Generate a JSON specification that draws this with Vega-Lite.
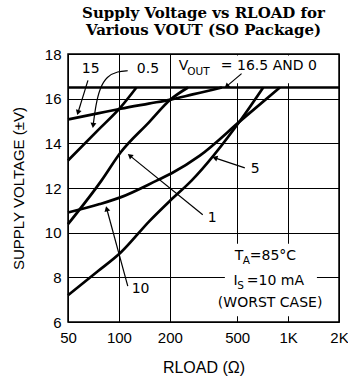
{
  "$schema": "https://vega.github.io/schema/vega-lite/v6.json",
  "width": 271,
  "height": 268,
  "autosize": {"type": "none"},
  "padding": {"left": 68, "top": 54, "right": 9, "bottom": 56},
  "background": "white",
  "title": {
    "text": ["Supply Voltage vs RLOAD for", "Various VOUT (SO Package)"],
    "font": "DejaVu Serif",
    "fontSize": 15,
    "fontWeight": "bold",
    "lineHeight": 17,
    "anchor": "middle",
    "offset": 9,
    "color": "black"
  },
  "config": {
    "view": {"stroke": "black", "strokeWidth": 1.5},
    "axis": {
      "grid": true,
      "gridColor": "black",
      "gridOpacity": 1,
      "gridWidth": 1,
      "ticks": false,
      "domain": false,
      "labelFont": "Liberation Sans",
      "labelFontSize": 15,
      "labelColor": "black",
      "titleFont": "Liberation Sans",
      "titleFontSize": 15,
      "titleFontWeight": "normal",
      "titleColor": "black",
      "labelFlush": false,
      "labelOverlap": false
    }
  },
  "datasets": {
    "curves": [
      {"v": "15", "x": 50, "y": 15.07},
      {"v": "15", "x": 75, "y": 15.34},
      {"v": "15", "x": 102.5, "y": 15.55},
      {"v": "15", "x": 150, "y": 15.78},
      {"v": "15", "x": 202.6, "y": 15.96},
      {"v": "15", "x": 273, "y": 16.19},
      {"v": "15", "x": 359, "y": 16.4},
      {"v": "15", "x": 406, "y": 16.5},
      {"v": "0.5", "x": 50, "y": 13.23},
      {"v": "0.5", "x": 75, "y": 14.58},
      {"v": "0.5", "x": 102.5, "y": 15.62},
      {"v": "0.5", "x": 127, "y": 16.5},
      {"v": "1", "x": 50, "y": 10.38},
      {"v": "1", "x": 78.8, "y": 12.33},
      {"v": "1", "x": 102.5, "y": 13.6},
      {"v": "1", "x": 150, "y": 14.93},
      {"v": "1", "x": 202.6, "y": 15.97},
      {"v": "1", "x": 256, "y": 16.5},
      {"v": "10", "x": 50, "y": 10.9},
      {"v": "10", "x": 77, "y": 11.28},
      {"v": "10", "x": 102, "y": 11.58},
      {"v": "10", "x": 167, "y": 12.33},
      {"v": "10", "x": 205, "y": 12.66},
      {"v": "10", "x": 300.7, "y": 13.45},
      {"v": "10", "x": 531, "y": 15.05},
      {"v": "10", "x": 895, "y": 16.5},
      {"v": "5", "x": 50, "y": 7.2},
      {"v": "5", "x": 75, "y": 8.27},
      {"v": "5", "x": 102.5, "y": 9.11},
      {"v": "5", "x": 152, "y": 10.53},
      {"v": "5", "x": 200, "y": 11.42},
      {"v": "5", "x": 268.7, "y": 12.33},
      {"v": "5", "x": 531, "y": 15.1},
      {"v": "5", "x": 713, "y": 16.5},
      {"v": "16.5 and 0", "x": 50, "y": 16.5},
      {"v": "16.5 and 0", "x": 2000, "y": 16.5}
    ],
    "boxes": [
      {"x": 423, "x2": 1481, "y": 9.5, "y2": 6.26},
      {"x": 214, "x2": 1940, "y": 16.69, "y2": 17.93}
    ],
    "arrows": [
      {"x": 65.6, "y": 16.82, "x2": 57.3, "y2": 15.38},
      {"x": 531, "y": 17.12, "x2": 433, "y2": 16.55},
      {"x": 555, "y": 12.9, "x2": 369, "y2": 13.35},
      {"x": 313, "y": 10.8, "x2": 116, "y2": 13.45},
      {"x": 112.8, "y": 7.61, "x2": 84.7, "y2": 11.07}
    ],
    "leader": [
      {"i": 0, "x": 112.8, "y": 17.25},
      {"i": 1, "x": 98.5, "y": 17.23},
      {"i": 2, "x": 84.7, "y": 17.0},
      {"i": 3, "x": 77, "y": 16.46},
      {"i": 4, "x": 72.9, "y": 15.7},
      {"i": 5, "x": 70.4, "y": 14.8}
    ],
    "heads": [
      {"x": 57.3, "y": 15.38, "angle": 197},
      {"x": 70.4, "y": 14.8, "angle": 187},
      {"x": 433, "y": 16.55, "angle": 230},
      {"x": 369, "y": 13.35, "angle": 288},
      {"x": 116, "y": 13.45, "angle": 309},
      {"x": 84.7, "y": 11.07, "angle": 345}
    ],
    "labels": [
      {"t": "15", "x": 60.3, "y": 17.32},
      {"t": "0.5", "x": 127.5, "y": 17.32},
      {"t": "V", "x": 226, "y": 17.45},
      {"t": "= 16.5 AND 0", "x": 400.6, "y": 17.45},
      {"t": "5", "x": 602, "y": 12.87},
      {"t": "1", "x": 335.5, "y": 10.64},
      {"t": "10", "x": 119, "y": 7.47},
      {"t": "T", "x": 484.5, "y": 8.96},
      {"t": "=85°C", "x": 594, "y": 8.96},
      {"t": "I", "x": 475, "y": 7.83},
      {"t": "=10 mA", "x": 570, "y": 7.83},
      {"t": "(WORST CASE)", "x": 384.5, "y": 6.84}
    ],
    "subs": [
      {"t": "OUT", "x": 253.8, "y": 17.18},
      {"t": "A", "x": 540, "y": 8.73},
      {"t": "S", "x": 501, "y": 7.61}
    ]
  },
  "layer": [
    {
      "data": {"name": "boxes"},
      "mark": {"type": "rect", "color": "white", "stroke": null},
      "encoding": {
        "x": {
          "field": "x", "type": "quantitative",
          "scale": {"type": "log", "domain": [50, 2000], "nice": false},
          "axis": {
            "title": "RLOAD (Ω)",
            "values": [50, 100, 200, 500, 1000, 2000],
            "labelExpr": "datum.value >= 1000 ? format(datum.value/1000, 'd') + 'K' : format(datum.value, 'd')",
            "labelPadding": 8,
            "titlePadding": 14,
            "titleFontSize": 16
          }
        },
        "x2": {"field": "x2"},
        "y": {
          "field": "y", "type": "quantitative",
          "scale": {"domain": [6, 18], "nice": false, "zero": false},
          "axis": {
            "title": "SUPPLY VOLTAGE (±V)",
            "values": [6, 8, 10, 12, 14, 16, 18],
            "labelPadding": 7,
            "titlePadding": 18
          }
        },
        "y2": {"field": "y2"}
      }
    },
    {
      "data": {"name": "curves"},
      "mark": {"type": "line", "color": "black", "strokeWidth": 2.7, "interpolate": "monotone"},
      "encoding": {
        "x": {"field": "x", "type": "quantitative"},
        "y": {"field": "y", "type": "quantitative"},
        "detail": {"field": "v", "type": "nominal"}
      }
    },
    {
      "data": {"name": "arrows"},
      "mark": {"type": "rule", "color": "black", "strokeWidth": 1.2},
      "encoding": {
        "x": {"field": "x", "type": "quantitative"},
        "y": {"field": "y", "type": "quantitative"},
        "x2": {"field": "x2"},
        "y2": {"field": "y2"}
      }
    },
    {
      "data": {"name": "leader"},
      "mark": {"type": "line", "color": "black", "strokeWidth": 1.2, "interpolate": "basis"},
      "encoding": {
        "x": {"field": "x", "type": "quantitative"},
        "y": {"field": "y", "type": "quantitative"},
        "order": {"field": "i", "type": "quantitative"}
      }
    },
    {
      "data": {"name": "heads"},
      "mark": {"type": "point", "shape": "triangle-up", "filled": true, "color": "black", "opacity": 1, "size": 35},
      "encoding": {
        "x": {"field": "x", "type": "quantitative"},
        "y": {"field": "y", "type": "quantitative"},
        "angle": {"field": "angle", "type": "quantitative", "scale": null}
      }
    },
    {
      "data": {"name": "labels"},
      "mark": {"type": "text", "align": "left", "baseline": "middle", "font": "DejaVu Sans", "fontSize": 14, "color": "black"},
      "encoding": {
        "x": {"field": "x", "type": "quantitative"},
        "y": {"field": "y", "type": "quantitative"},
        "text": {"field": "t"}
      }
    },
    {
      "data": {"name": "subs"},
      "mark": {"type": "text", "align": "left", "baseline": "middle", "font": "DejaVu Sans", "fontSize": 10.5, "color": "black"},
      "encoding": {
        "x": {"field": "x", "type": "quantitative"},
        "y": {"field": "y", "type": "quantitative"},
        "text": {"field": "t"}
      }
    }
  ]
}
